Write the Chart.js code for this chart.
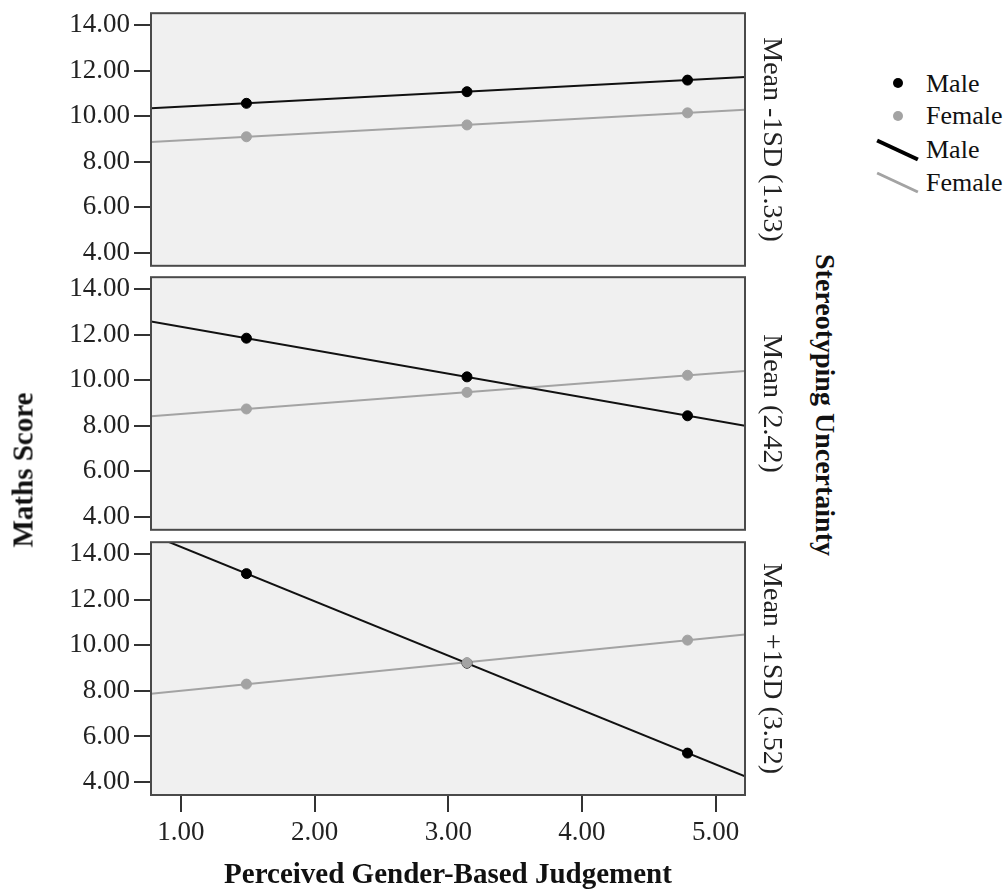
<!DOCTYPE html>
<html lang="en">
<head>
    <meta charset="UTF-8">
    <title>Maths Score by Perceived Gender-Based Judgement</title>
    <script src="https://cdn.jsdelivr.net/npm/chart.js"></script>
    <style>
        body {
            margin: 0;
            background: #fff;
            overflow: hidden;
            font-family: "Liberation Serif", "Times New Roman", serif;
        }
        .wrap {
            position: relative;
            width: 1008px;
            height: 890px;
        }
        .wrap canvas {
            position: absolute;
            left: 0;
        }
        .rot {
            position: absolute;
            white-space: nowrap;
            font-weight: bold;
            line-height: 1;
            color: #111;
        }
        .leg-dot {
            position: absolute;
            width: 10px;
            height: 10px;
            border-radius: 50%;
        }
        .leg-line {
            position: absolute;
            width: 45px;
            transform: rotate(25deg);
        }
        .leg-text {
            position: absolute;
            left: 926px;
            font-size: 26px;
            line-height: 30px;
            color: #111;
        }
    </style>
</head>
<body>
<div class="wrap">
    <canvas id="panel0" width="800" height="293" style="top:-7px"></canvas>
    <canvas id="panel1" width="800" height="293" style="top:257px"></canvas>
    <canvas id="panel2" width="800" height="383" style="top:522px"></canvas>

    <div class="rot" style="left:23px; top:470px; font-size:29px; transform:translate(-50%,-50%) rotate(-90deg);">Maths Score</div>
    <div class="rot" style="left:825px; top:405px; font-size:28px; transform:translate(-50%,-50%) rotate(90deg);">Stereotyping Uncertainty</div>

    <!-- legend -->
    <div class="leg-dot" style="left:893px; top:78px; background:#000;"></div>
    <div class="leg-text" style="top:69px;">Male</div>
    <div class="leg-dot" style="left:893px; top:111px; background:#a3a3a3;"></div>
    <div class="leg-text" style="top:101px;">Female</div>
    <div class="leg-line" style="left:875px; top:148px; height:4px; background:#000;"></div>
    <div class="leg-text" style="top:135px;">Male</div>
    <div class="leg-line" style="left:875px; top:181px; height:3px; background:#a3a3a3;"></div>
    <div class="leg-text" style="top:168px;">Female</div>
</div>

<script>
    // data
    const xPoints = [1.49, 3.14, 4.79];          // perceived judgement: -1SD, mean, +1SD
    const xTicks = [1, 2, 3, 4, 5];
    const yTicks = [4, 6, 8, 10, 12, 14];
    const xRange = [0.776, 5.22];
    const yRange = [3.43, 14.53];
    const panelLabels = ['Mean -1SD (1.33)', 'Mean (2.42)', 'Mean +1SD (3.52)'];

    const maleLow = [10.57, 11.08, 11.59];
    const femaleLow = [9.10, 9.62, 10.15];
    const maleMean = [11.85, 10.15, 8.44];
    const femaleMean = [8.74, 9.47, 10.22];
    const maleHigh = [13.15, 9.22, 5.27];
    const femaleHigh = [8.30, 9.24, 10.23];

    const maleScores = [maleLow, maleMean, maleHigh];
    const femaleScores = [femaleLow, femaleMean, femaleHigh];

    const FONT = '"Liberation Serif", "Times New Roman", serif';
    const MALE = '#000000';
    const FEMALE = '#a3a3a3';

    // least squares fit line across the axis range
    function fitLine(ys) {
        const n = xPoints.length;
        const mx = xPoints.reduce((a, b) => a + b, 0) / n;
        const my = ys.reduce((a, b) => a + b, 0) / n;
        let sxy = 0, sxx = 0;
        xPoints.forEach((x, i) => {
            sxy += (x - mx) * (ys[i] - my);
            sxx += (x - mx) * (x - mx);
        });
        const b = sxy / sxx;
        const a = my - b * mx;
        return xRange.map(x => ({ x: x, y: a + b * x }));
    }

    function points(ys) {
        return xPoints.map((x, i) => ({ x: x, y: ys[i] }));
    }

    // grey panel background and frame
    const panelBox = {
        id: 'panelBox',
        beforeDraw(chart) {
            const { ctx, chartArea: a } = chart;
            ctx.save();
            ctx.fillStyle = '#f0f0f0';
            ctx.fillRect(a.left, a.top, a.width, a.height);
            ctx.restore();
        },
        afterDraw(chart) {
            const { ctx, chartArea: a } = chart;
            ctx.save();
            ctx.strokeStyle = '#4a4a4a';
            ctx.lineWidth = 2;
            ctx.strokeRect(a.left, a.top, a.width, a.height);
            ctx.restore();
        }
    };

    function makePanel(i) {
        const last = i === 2;
        return new Chart(document.getElementById('panel' + i), {
            type: 'scatter',
            data: {
                datasets: [
                    {
                        label: 'Female',
                        data: points(femaleScores[i]),
                        pointRadius: 5,
                        pointBackgroundColor: FEMALE,
                        pointBorderColor: FEMALE,
                        showLine: false
                    },
                    {
                        label: 'Male',
                        data: points(maleScores[i]),
                        pointRadius: 5,
                        pointBackgroundColor: MALE,
                        pointBorderColor: MALE,
                        showLine: false
                    },
                    {
                        label: 'Male fit',
                        data: fitLine(maleScores[i]),
                        showLine: true,
                        pointRadius: 0,
                        borderColor: '#111',
                        borderWidth: 2
                    },
                    {
                        label: 'Female fit',
                        data: fitLine(femaleScores[i]),
                        showLine: true,
                        pointRadius: 0,
                        borderColor: FEMALE,
                        borderWidth: 2
                    }
                ]
            },
            options: {
                responsive: false,
                animation: false,
                events: [],
                layout: { padding: { left: 0, right: 11, top: 20, bottom: last ? 0 : 20 } },
                plugins: {
                    legend: { display: false },
                    tooltip: { enabled: false }
                },
                scales: {
                    x: {
                        type: 'linear',
                        display: last,
                        min: xRange[0],
                        max: xRange[1],
                        afterBuildTicks: s => { s.ticks = xTicks.map(v => ({ value: v })); },
                        afterFit: s => { s.height = last ? 110 : 0; },
                        grid: { drawOnChartArea: false, tickLength: 17, color: '#333', lineWidth: 2 },
                        border: { display: false },
                        ticks: {
                            autoSkip: false,
                            font: { family: FONT, size: 27 },
                            color: '#222',
                            padding: 5,
                            callback: v => v.toFixed(2)
                        },
                        title: {
                            display: true,
                            text: 'Perceived Gender-Based Judgement',
                            font: { family: FONT, size: 29, weight: 'bold' },
                            color: '#111',
                            padding: { top: 0, bottom: 12 }
                        }
                    },
                    y: {
                        type: 'linear',
                        position: 'left',
                        min: yRange[0],
                        max: yRange[1],
                        afterBuildTicks: s => { s.ticks = yTicks.map(v => ({ value: v })); },
                        afterFit: s => { s.width = 151; },
                        grid: { drawOnChartArea: false, tickLength: 17, color: '#333', lineWidth: 2 },
                        border: { display: false },
                        ticks: {
                            autoSkip: false,
                            font: { family: FONT, size: 27 },
                            color: '#222',
                            padding: 4,
                            callback: v => v.toFixed(2)
                        }
                    },
                    y2: {
                        type: 'linear',
                        position: 'right',
                        afterFit: s => { s.width = 44; },
                        grid: { display: false },
                        border: { display: false },
                        ticks: { display: false },
                        title: {
                            display: true,
                            text: panelLabels[i],
                            font: { family: FONT, size: 28 },
                            color: '#222',
                            padding: { top: 1, bottom: 0 }
                        }
                    }
                }
            },
            plugins: [panelBox]
        });
    }

    [0, 1, 2].forEach(makePanel);
</script>
</body>
</html>
